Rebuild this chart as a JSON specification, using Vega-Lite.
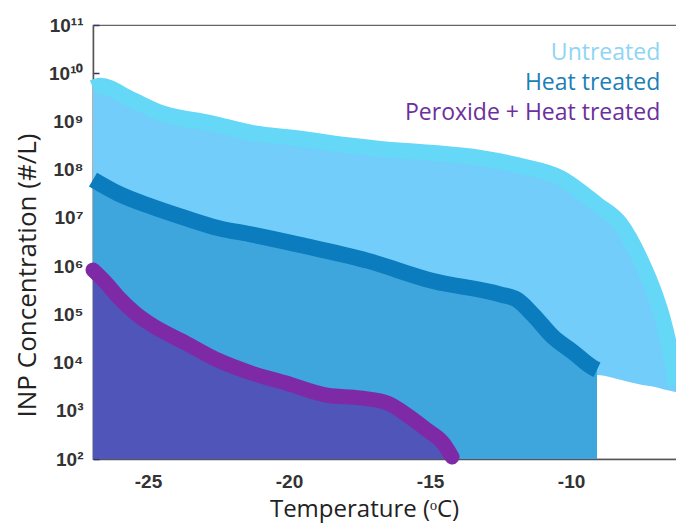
{
  "$schema": "https://vega.github.io/schema/vega-lite/v6.json",
  "width": 584,
  "height": 434,
  "autosize": {"type": "none"},
  "padding": {"left": 93, "top": 25, "right": 0, "bottom": 66},
  "background": "white",
  "config": {
    "view": {"stroke": "#666666", "strokeWidth": 1.2},
    "axis": {"grid": false, "zindex": 1, "domainColor": "#555555", "domainWidth": 1.5, "tickColor": "#2b3566", "tickWidth": 1.5, "tickSize": -6,
      "labelFont": "Liberation Sans", "labelFontWeight": "bold", "labelFontSize": 19, "labelColor": "#333333",
      "titleFont": "Open Sans", "titleFontWeight": "normal", "titleFontSize": 24, "titleColor": "#222222"}
  },
  "datasets": {
    "untreated": [
      {"T": -26.95, "c": 5.0e9, "lower": 100},
      {"T": -26.70, "c": 5.5e9, "lower": 100},
      {"T": -25.64, "c": 2.95e9, "lower": 100},
      {"T": -24.47, "c": 1.45e9, "lower": 100},
      {"T": -22.80, "c": 9.3e8, "lower": 100},
      {"T": -21.28, "c": 5.75e8, "lower": 100},
      {"T": -19.61, "c": 4.4e8, "lower": 100},
      {"T": -17.94, "c": 3.2e8, "lower": 100},
      {"T": -16.77, "c": 2.7e8, "lower": 100},
      {"T": -15.00, "c": 2.25e8, "lower": 100},
      {"T": -13.23, "c": 1.75e8, "lower": 100},
      {"T": -11.81, "c": 1.2e8, "lower": 100},
      {"T": -10.39, "c": 6.8e7, "lower": 100},
      {"T": -9.08, "c": 1.9e7, "lower": 5500},
      {"T": -8.26, "c": 7.6e6, "lower": 4400},
      {"T": -7.55, "c": 1.4e6, "lower": 3500},
      {"T": -7.02, "c": 2.5e5, "lower": 3100},
      {"T": -6.74, "c": 7.6e4, "lower": 2800},
      {"T": -6.49, "c": 1.8e4, "lower": 2600},
      {"T": -6.28, "c": 3.4e3, "lower": 2450}
    ],
    "heat": [
      {"T": -26.95, "c": 6.2e7, "lower": 100},
      {"T": -26.06, "c": 3.2e7, "lower": 100},
      {"T": -24.86, "c": 1.7e7, "lower": 100},
      {"T": -23.69, "c": 1.0e7, "lower": 100},
      {"T": -22.52, "c": 6.2e6, "lower": 100},
      {"T": -21.31, "c": 4.5e6, "lower": 100},
      {"T": -19.61, "c": 2.75e6, "lower": 100},
      {"T": -17.23, "c": 1.3e6, "lower": 100},
      {"T": -14.89, "c": 4.9e5, "lower": 100},
      {"T": -12.52, "c": 2.6e5, "lower": 100},
      {"T": -11.91, "c": 2.0e5, "lower": 100},
      {"T": -11.35, "c": 9.8e4, "lower": 100},
      {"T": -10.64, "c": 3.4e4, "lower": 100},
      {"T": -9.93, "c": 1.65e4, "lower": 100},
      {"T": -9.22, "c": 7.8e3, "lower": 100},
      {"T": -9.08, "c": 7.1e3, "lower": 100}
    ],
    "peroxide": [
      {"T": -26.95, "c": 8.3e5, "lower": 100},
      {"T": -26.52, "c": 4.7e5, "lower": 100},
      {"T": -26.06, "c": 2.3e5, "lower": 100},
      {"T": -25.46, "c": 1.07e5, "lower": 100},
      {"T": -24.86, "c": 6.0e4, "lower": 100},
      {"T": -23.69, "c": 2.6e4, "lower": 100},
      {"T": -22.52, "c": 1.12e4, "lower": 100},
      {"T": -21.31, "c": 6.0e3, "lower": 100},
      {"T": -20.14, "c": 3.8e3, "lower": 100},
      {"T": -18.65, "c": 2.1e3, "lower": 100},
      {"T": -17.48, "c": 1.85e3, "lower": 100},
      {"T": -16.52, "c": 1.45e3, "lower": 100},
      {"T": -15.71, "c": 740, "lower": 100},
      {"T": -15.11, "c": 400, "lower": 100},
      {"T": -14.54, "c": 215, "lower": 100},
      {"T": -14.22, "c": 110, "lower": 100}
    ],
    "labels": [
      {"T": -6.84, "c": 2.6e10, "label": "Untreated"},
      {"T": -6.84, "c": 6.3e9, "label": "Heat treated"},
      {"T": -6.84, "c": 1.5e9, "label": "Peroxide + Heat treated"}
    ]
  },
  "encoding": {
    "x": {"field": "T", "type": "quantitative",
      "scale": {"domain": [-26.95, -6.245], "nice": false, "zero": false},
      "axis": {"values": [-25, -20, -15, -10], "labelExpr": "'' + datum.value", "labelPadding": 19,
        "title": "Temperature (ᵒC)", "titleX": 271, "titleY": 50, "titleAlign": "center", "titleBaseline": "middle"}},
    "y": {"field": "c", "type": "quantitative",
      "scale": {"type": "log", "domain": [100, 1e11], "nice": false},
      "axis": {"values": [1e2, 1e3, 1e4, 1e5, 1e6, 1e7, 1e8, 1e9, 1e10, 1e11],
        "labelExpr": "'10' + ['⁰','¹','²','³','⁴','⁵','⁶','⁷','⁸','⁹','¹⁰','¹¹'][round(log(datum.value) / LN10)]",
        "labelPadding": 16,
        "title": "INP Concentration (#/L)", "titleX": -66, "titleY": 250, "titleAngle": -90, "titleFontSize": 26, "titleAlign": "center", "titleBaseline": "middle"}}
  },
  "layer": [
    {"data": {"name": "untreated"}, "mark": {"type": "area", "color": "#73cdfa", "interpolate": "monotone"}, "encoding": {"y2": {"field": "lower"}}},
    {"data": {"name": "heat"}, "mark": {"type": "area", "color": "#3ea6dd", "interpolate": "monotone"}, "encoding": {"y2": {"field": "lower"}}},
    {"data": {"name": "peroxide"}, "mark": {"type": "area", "color": "#4f55b9", "interpolate": "monotone"}, "encoding": {"y2": {"field": "lower"}}},
    {"data": {"name": "untreated"}, "mark": {"type": "line", "color": "#64d8f6", "strokeWidth": 16, "strokeJoin": "round", "interpolate": "monotone"}, "encoding": {}},
    {"data": {"name": "heat"}, "mark": {"type": "line", "color": "#0b7cbd", "strokeWidth": 16, "strokeJoin": "round", "interpolate": "monotone"}, "encoding": {}},
    {"data": {"name": "peroxide"}, "mark": {"type": "line", "color": "#7e2aa7", "strokeWidth": 15, "strokeJoin": "round", "strokeCap": "round", "interpolate": "monotone"}, "encoding": {}},
    {"data": {"name": "labels"},
      "mark": {"type": "text", "align": "right", "baseline": "middle", "font": "Open Sans", "fontSize": 23},
      "encoding": {"text": {"field": "label"},
        "color": {"field": "label", "type": "nominal", "legend": null,
          "scale": {"domain": ["Untreated", "Heat treated", "Peroxide + Heat treated"], "range": ["#8fd5f3", "#1b80b6", "#6c2f9d"]}}}}
  ]
}
